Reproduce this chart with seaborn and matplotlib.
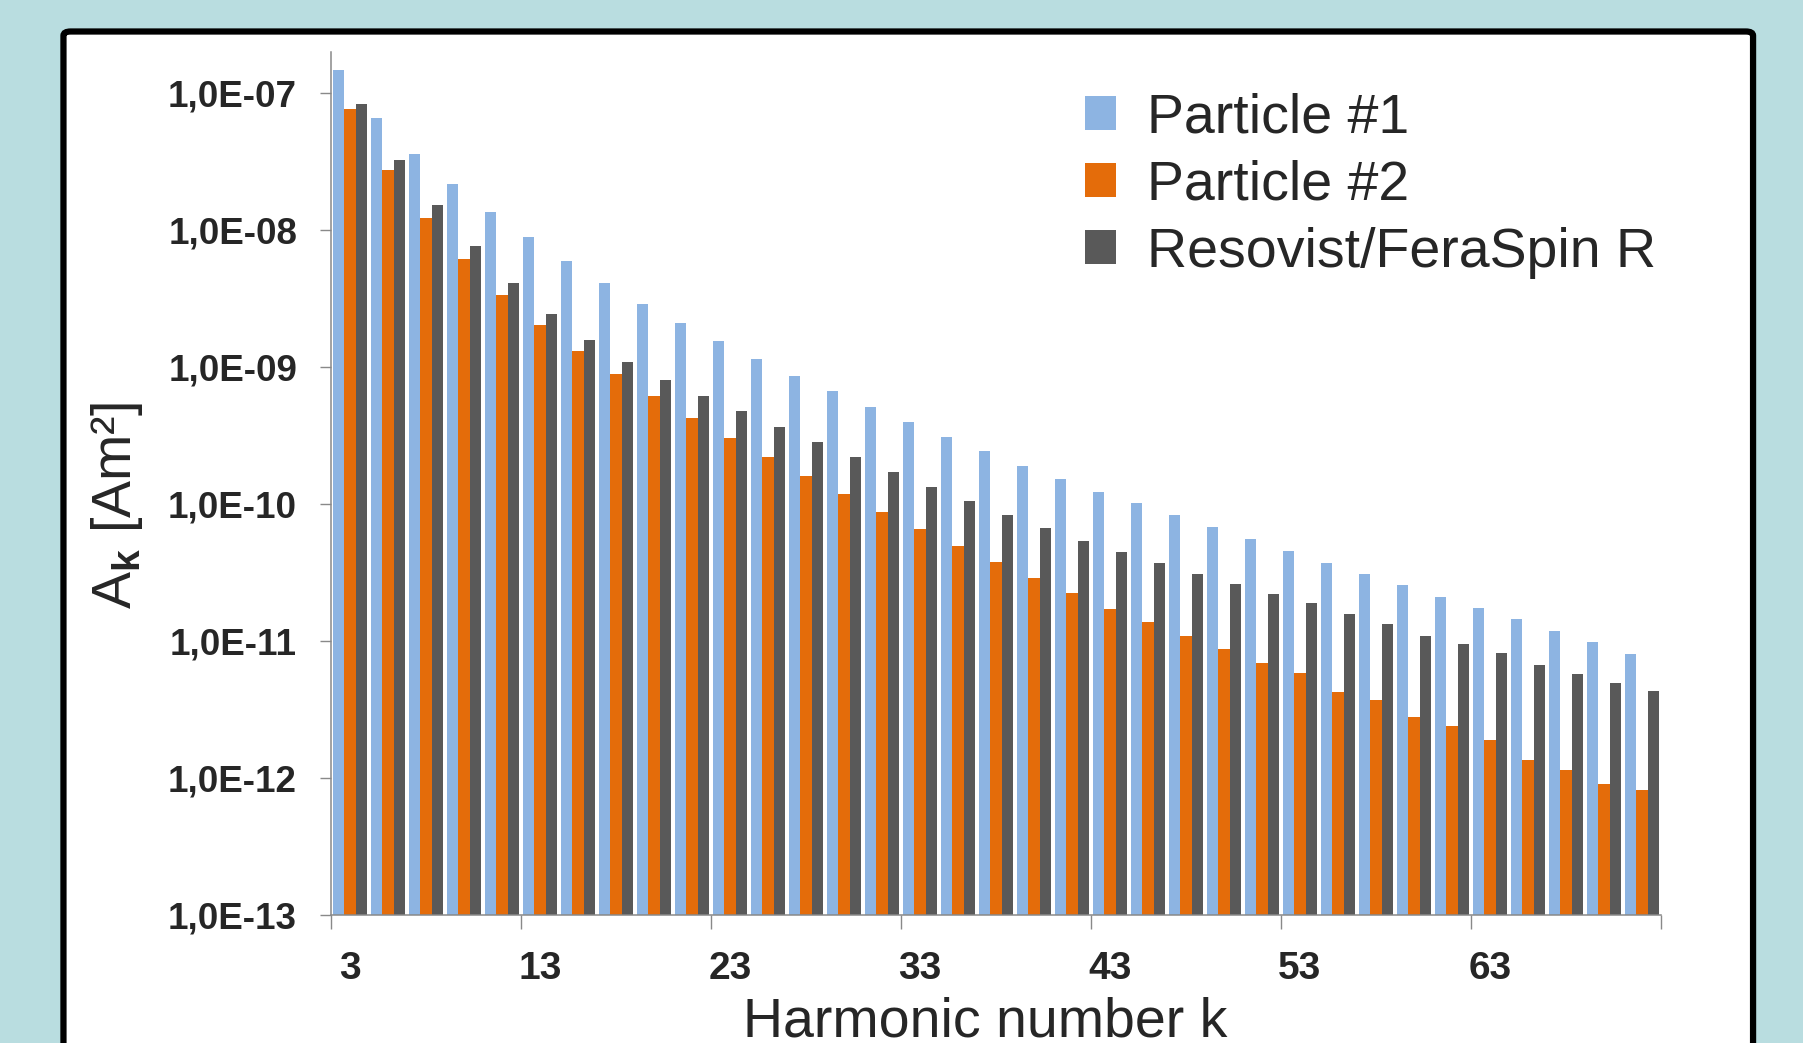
import numpy as np
import pandas as pd
import matplotlib
matplotlib.use('Agg')
import matplotlib.pyplot as plt
import seaborn as sns
from matplotlib.patches import FancyBboxPatch, Patch
from matplotlib.ticker import NullLocator

# odd harmonics k = 3..71
harmonics = list(range(3, 72, 2))
particle_1 = [1.47e-7, 6.6e-8, 3.63e-8, 2.16e-8, 1.36e-8, 8.84e-9, 5.93e-9, 4.12e-9, 2.91e-9, 2.09e-9,
              1.55e-9, 1.15e-9, 8.67e-10, 6.64e-10, 5.09e-10, 3.97e-10, 3.08e-10, 2.43e-10, 1.91e-10, 1.52e-10,
              1.23e-10, 1.01e-10, 8.26e-11, 6.78e-11, 5.52e-11, 4.56e-11, 3.72e-11, 3.07e-11, 2.55e-11, 2.09e-11,
              1.73e-11, 1.44e-11, 1.19e-11, 9.8e-12, 8.05e-12]
particle_2 = [7.66e-8, 2.77e-8, 1.22e-8, 6.14e-9, 3.38e-9, 2.04e-9, 1.32e-9, 8.83e-10, 6.1e-10, 4.28e-10,
              3.03e-10, 2.19e-10, 1.60e-10, 1.18e-10, 8.71e-11, 6.59e-11, 4.94e-11, 3.76e-11, 2.88e-11, 2.23e-11,
              1.72e-11, 1.37e-11, 1.09e-11, 8.68e-12, 6.88e-12, 5.8e-12, 4.26e-12, 3.69e-12, 2.79e-12, 2.37e-12,
              1.89e-12, 1.35e-12, 1.14e-12, 9.0e-13, 8.1e-13]
resovist = [8.3e-8, 3.25e-8, 1.52e-8, 7.69e-9, 4.14e-9, 2.43e-9, 1.57e-9, 1.09e-9, 8.04e-10, 6.12e-10,
            4.78e-10, 3.68e-10, 2.85e-10, 2.20e-10, 1.71e-10, 1.34e-10, 1.05e-10, 8.3e-11, 6.65e-11, 5.37e-11,
            4.43e-11, 3.70e-11, 3.10e-11, 2.61e-11, 2.19e-11, 1.88e-11, 1.56e-11, 1.33e-11, 1.09e-11, 9.47e-12,
            8.09e-12, 6.64e-12, 5.74e-12, 4.93e-12, 4.27e-12]
series_names = ['Particle #1', 'Particle #2', 'Resovist/FeraSpin R']
colors = ['#8DB4E2', '#E46C0A', '#595959']
ytick_vals = [1e-13, 1e-12, 1e-11, 1e-10, 1e-9, 1e-8, 1e-7]
ytick_labels = ['1,0E-13', '1,0E-12', '1,0E-11', '1,0E-10', '1,0E-09', '1,0E-08', '1,0E-07']
xtick_labels = ['3', '13', '23', '33', '43', '53', '63']

k_labels = [str(h) for h in harmonics]
df = pd.DataFrame({
    'k': k_labels * 3,
    'value': particle_1 + particle_2 + resovist,
    'series': np.repeat(series_names, len(harmonics)),
})

sns.set_style('white')
plt.rcParams['font.family'] = ['Liberation Sans', 'DejaVu Sans']
plt.rcParams['mathtext.fontset'] = 'custom'
plt.rcParams['mathtext.rm'] = 'Liberation Sans'
plt.rcParams['mathtext.bf'] = 'Liberation Sans:bold'

fig = plt.figure(figsize=(18.03, 10.43), dpi=100, facecolor='#B9DDE0')

# white panel with thick black frame
panel = FancyBboxPatch((0.0352, -0.05), 0.9371, 1.0198, boxstyle='round,pad=0,rounding_size=0.004',
                       transform=fig.transFigure, facecolor='white', edgecolor='black',
                       linewidth=4.5, zorder=-10)
fig.patches.append(panel)

ax = fig.add_axes([0.1836, 0.1230, 0.7376, 0.8271])
ax.set_facecolor('none')

sns.barplot(data=df, x='k', y='value', hue='series', order=k_labels, hue_order=series_names,
            palette=colors, saturation=1, width=0.9, errorbar=None, linewidth=0, legend=False, ax=ax)

ax.set_yscale('log')
ax.set_ylim(1e-13, 2e-7)
ax.set_yticks(ytick_vals, ytick_labels)
ax.yaxis.set_minor_locator(NullLocator())
ax.set_xlim(-0.5, len(harmonics) - 0.5)
ax.set_xticks(range(0, 35, 5), xtick_labels)
ax.set_xticks(np.arange(-0.5, len(harmonics), 5), minor=True)
ax.set_xlabel('')
ax.set_ylabel('')

ax.tick_params(axis='y', which='major', length=8, width=1, color='#898989', pad=16.5, labelsize=26.5, left=True)
ax.tick_params(axis='x', which='major', length=0, pad=26, labelsize=28, bottom=True)
ax.tick_params(axis='x', which='minor', length=10, width=1, color='#898989', bottom=True)
for lbl in ax.get_xticklabels() + ax.get_yticklabels():
    lbl.set_fontweight('bold')

for s in ['top', 'right']:
    ax.spines[s].set_visible(False)
for s in ['left', 'bottom']:
    ax.spines[s].set_color('#898989')
    ax.spines[s].set_linewidth(1.1)

handles = [Patch(facecolor=c, edgecolor='none') for c in colors]
ax.legend(handles, series_names, loc='upper left', bbox_to_anchor=(0.602, 0.911),
          bbox_transform=fig.transFigure, frameon=False, fontsize=40,
          handlelength=0.55, handleheight=0.55, handletextpad=0.55,
          labelspacing=0.27, borderpad=0, borderaxespad=0)

fig.text(0.065, 0.515, r'A$_{\mathbf{k}}$ [Am²]', rotation=90, ha='center', va='center', fontsize=40)
fig.text(0.5463, 0.006, 'Harmonic number k', ha='center', va='baseline', fontsize=40)

fig.savefig('out.png', dpi=100)
